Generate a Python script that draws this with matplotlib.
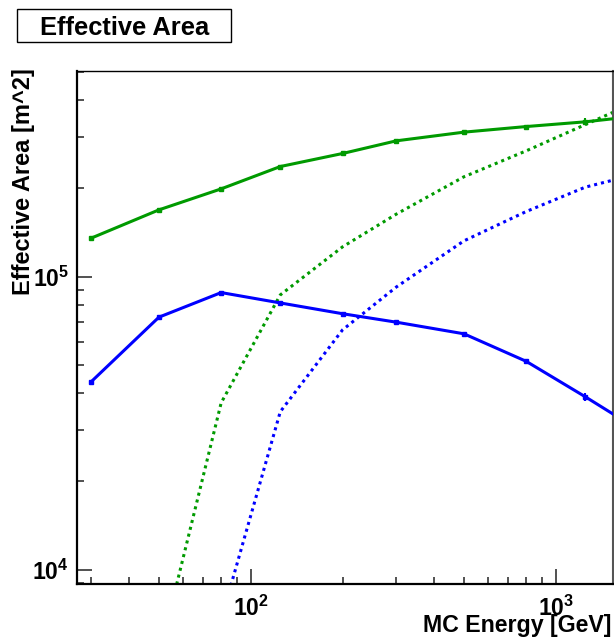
import matplotlib
matplotlib.use('Agg')
import matplotlib.pyplot as plt
from matplotlib.ticker import LogLocator, NullFormatter, FuncFormatter
from matplotlib.patches import Rectangle
import numpy as np

# ---------------- data ----------------
energy = [30, 50, 80, 125, 200, 300, 500, 800, 1250, 2000]
green_solid = [135.3e3, 168.9e3, 199.2e3, 237.4e3, 263e3, 290.5e3, 311e3, 325e3, 337.3e3, 356e3]
green_solid_err = [0.8e3, 1.0e3, 1.2e3, 1.5e3, 2.0e3, 2.5e3, 3.5e3, 5e3, 9e3, 12e3]
blue_solid = [43.8e3, 72.7e3, 88.2e3, 81.3e3, 74.7e3, 69.9e3, 63.8e3, 51.4e3, 38.9e3, 28.7e3]
blue_solid_err = [0.4e3, 0.6e3, 0.7e3, 0.7e3, 0.7e3, 0.8e3, 1.0e3, 1.0e3, 1.2e3, 1.5e3]

energy_green_dotted = [50, 80, 125, 200, 300, 500, 800, 1250, 2000]
green_dotted = [5.05e3, 37.1e3, 86.6e3, 126.3e3, 163.3e3, 219e3, 268.5e3, 330e3, 410e3]
energy_blue_dotted = [80, 125, 200, 300, 500, 800, 1250, 2000]
blue_dotted = [6.76e3, 34.6e3, 65.8e3, 92.1e3, 132.4e3, 166.7e3, 201.9e3, 228.4e3]

title_text = "Effective Area"
xlabel_text = "MC Energy [GeV]"
ylabel_text = "Effective Area [m^2]"

# ---------------- style ----------------
plt.rcParams['font.family'] = ['Liberation Sans', 'DejaVu Sans']
plt.rcParams['mathtext.fontset'] = 'custom'
plt.rcParams['mathtext.bf'] = 'Liberation Sans:bold'
plt.rcParams['mathtext.rm'] = 'Liberation Sans:bold'
plt.rcParams['mathtext.it'] = 'Liberation Sans:bold'

W, H = 614, 638
fig = plt.figure(figsize=(W / 100, H / 100), dpi=100)
x0, x1 = 77.3, 612.5
y0, y1 = 70.7, 584.3
ax = fig.add_axes([x0 / W, 1 - y1 / H, (x1 - x0) / W, (y1 - y0) / H])

GREEN = '#009a00'
BLUE = '#0000ff'
LW = 2.2

ax.errorbar(energy, green_solid, yerr=green_solid_err, color=GREEN, lw=LW,
            marker='s', ms=3.2, capsize=0, elinewidth=1.5, zorder=3)
ax.errorbar(energy, blue_solid, yerr=blue_solid_err, color=BLUE, lw=LW,
            marker='s', ms=3.2, capsize=0, elinewidth=1.5, zorder=3)
ax.plot(energy_green_dotted, green_dotted, color=GREEN, lw=LW,
        linestyle=(0, (1.0, 1.3)), dash_capstyle='butt', zorder=2)
ax.plot(energy_blue_dotted, blue_dotted, color=BLUE, lw=LW,
        linestyle=(0, (1.0, 1.3)), dash_capstyle='butt', zorder=2)

ax.set_xscale('log')
ax.set_yscale('log')
ax.set_xlim(27.0, 1535)
ax.set_ylim(8916, 5.04e5)

fmt = FuncFormatter(lambda v, p: r'$\mathbf{10^{%d}}$' % int(round(np.log10(v))))
ax.xaxis.set_major_locator(LogLocator(base=10, numticks=10))
ax.yaxis.set_major_locator(LogLocator(base=10, numticks=10))
ax.xaxis.set_minor_locator(LogLocator(base=10, subs=np.arange(2, 10), numticks=20))
ax.yaxis.set_minor_locator(LogLocator(base=10, subs=np.arange(2, 10), numticks=20))
ax.xaxis.set_major_formatter(fmt)
ax.yaxis.set_major_formatter(fmt)
ax.xaxis.set_minor_formatter(NullFormatter())
ax.yaxis.set_minor_formatter(NullFormatter())

ax.tick_params(which='both', direction='in', top=False, right=False,
               color='#222222', width=1.1, labelsize=16.6)
ax.tick_params(which='major', length=10.8)
ax.tick_params(which='minor', length=5.0)
ax.tick_params(axis='y', which='major', pad=6)
ax.tick_params(axis='x', which='major', pad=8)

for s in ['left', 'bottom']:
    ax.spines[s].set_linewidth(1.6)
    ax.spines[s].set_color('black')
ax.spines['top'].set_linewidth(1.0)
ax.spines['top'].set_color('black')
ax.spines['right'].set_linewidth(1.5)
ax.spines['right'].set_color('#555555')

# axis titles
fig.text(611 / W, 1 - 632 / H, xlabel_text, ha='right', va='baseline',
         fontsize=16.7, fontweight='bold')
fig.text(30.5 / W, 1 - 68 / H, ylabel_text, ha='right', va='baseline',
         rotation=90, rotation_mode='anchor', fontsize=17.0, fontweight='bold')

# title box
fig.patches.append(Rectangle((17.3 / W, 1 - 41.7 / H), (231 - 17.3) / W, (41.7 - 9.3) / H,
                             transform=fig.transFigure, facecolor='white',
                             edgecolor='black', lw=1.0))
fig.text(124.5 / W, 1 - 35 / H, title_text, ha='center', va='baseline',
         fontsize=18.4, fontweight='bold')

fig.savefig('out.png', dpi=100)
